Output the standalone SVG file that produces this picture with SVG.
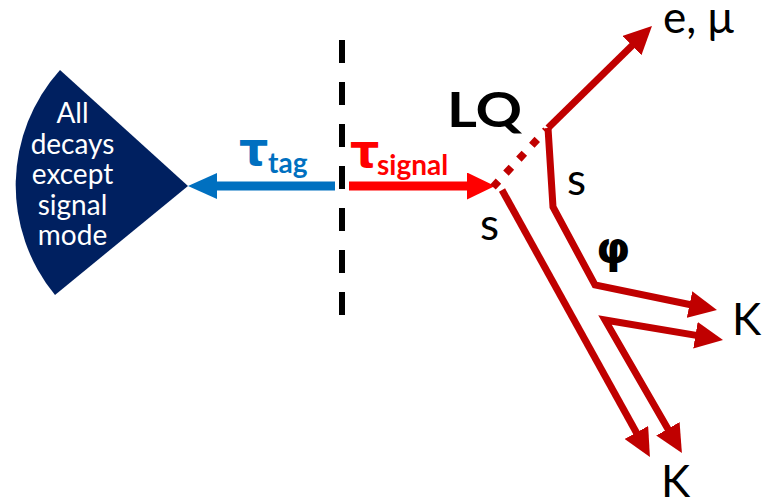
<svg xmlns="http://www.w3.org/2000/svg" width="766" height="503" viewBox="0 0 766 503">
<defs>
<style>
.lbl{font-family:Lato,"DejaVu Sans",sans-serif;fill:#000}
.grk{font-family:"DejaVu Sans",sans-serif;font-weight:bold}
.fan{font-family:Lato,"DejaVu Sans",sans-serif;font-size:28px;fill:#fff;text-anchor:middle}
.dr{fill:none;stroke:#C00000;stroke-width:7;stroke-linejoin:miter}
</style>
<marker id="hDR" viewBox="0 0 28 27" markerUnits="userSpaceOnUse" markerWidth="28" markerHeight="27" refX="16" refY="13.5" orient="auto-start-reverse">
<path d="M0,0 L28,13.5 L0,27 Z" fill="#C00000"/>
</marker>
<marker id="hB" viewBox="0 0 29 26" markerUnits="userSpaceOnUse" markerWidth="29" markerHeight="26" refX="17" refY="13" orient="auto">
<path d="M0,0 L29,13 L0,26 Z" fill="#0070C0"/>
</marker>
<marker id="hR" viewBox="0 0 28 27" markerUnits="userSpaceOnUse" markerWidth="28" markerHeight="27" refX="16" refY="13.5" orient="auto">
<path d="M0,0 L28,13.5 L0,27 Z" fill="#FF0000"/>
</marker>
</defs>
<rect width="766" height="503" fill="#fff"/>

<g id="fan-node">
<path d="M188,186 L60,70 A172.5,172.5 0 0 0 55,295 Z" fill="#002060"/>
<text class="fan" x="72.5" y="123">All</text>
<text class="fan" x="72.5" y="153.5">decays</text>
<text class="fan" x="72.5" y="184">except</text>
<text class="fan" x="72.5" y="214.5">signal</text>
<text class="fan" x="72.5" y="245">mode</text>
</g>

<g id="divider">
<line x1="342" y1="40" x2="342" y2="316" stroke="#000" stroke-width="6" stroke-dasharray="23 19"/>
</g>

<g id="connectors">
<line id="tau-tag-arrow" x1="335" y1="186" x2="200" y2="186" stroke="#0070C0" stroke-width="9" marker-end="url(#hB)"/>
<line id="tau-signal-arrow" x1="349" y1="186" x2="483" y2="186" stroke="#FF0000" stroke-width="9" marker-end="url(#hR)"/>
<line id="lq-dotted" x1="493" y1="187" x2="546" y2="130" stroke="#C00000" stroke-width="7.5" stroke-dasharray="8 11"/>
<path id="lepton" class="dr" d="M548,128 L643.4,34.4" marker-end="url(#hDR)"/>
<path id="s-phi" class="dr" d="M548,128 L553,207 L595,285 L705.2,307.7" marker-end="url(#hDR)"/>
<path id="sbar-k" class="dr" d="M675.9,442.7 L605,320 L711.2,337.9" marker-start="url(#hDR)" marker-end="url(#hDR)"/>
<path id="s-long" class="dr" d="M502,190 L644.1,446.5" marker-end="url(#hDR)"/>
</g>

<g id="tau-tag-label">
<text class="grk" x="239" y="165" font-size="46" fill="#0070C0">τ</text>
<text class="lbl" x="268" y="173" font-size="28" font-weight="bold" style="fill:#0070C0">tag</text>
</g>
<g id="tau-signal-label">
<text class="grk" x="350" y="167" font-size="46" fill="#FF0000">τ</text>
<text class="lbl" x="377" y="175" font-size="28" font-weight="bold" style="fill:#FF0000">signal</text>
</g>
<g id="lq-label">
<text class="lbl" x="447" y="127" font-size="48" font-weight="bold" font-family="'Liberation Sans',sans-serif" textLength="75" lengthAdjust="spacingAndGlyphs">LQ</text>
</g>
<g id="lepton-label"><text class="lbl" x="663" y="33" font-size="44">e, μ</text></g>
<g id="s1-label"><text class="lbl" x="567" y="195" font-size="44">s</text></g>
<g id="s2-label"><text class="lbl" x="480" y="240" font-size="44">s</text></g>
<g id="phi-label"><text class="grk" x="596" y="263" font-size="44" fill="#000">φ</text></g>
<g id="k1-label"><text class="lbl" x="732" y="335" font-size="44">K</text></g>
<g id="k2-label"><text class="lbl" x="661" y="497" font-size="44">K</text></g>
</svg>
